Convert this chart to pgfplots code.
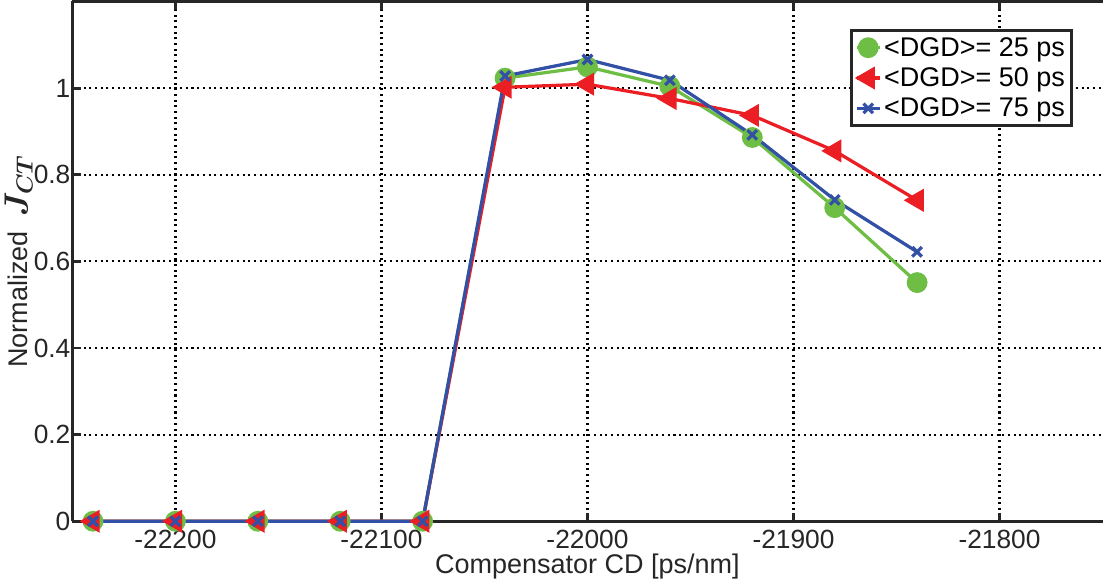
\documentclass[border=0pt]{standalone}
\usepackage{pgfplots}
\pgfplotsset{compat=1.18}
\usepackage{fontspec}
\setmainfont{Liberation Sans}
\definecolor{cgreen}{RGB}{110,190,70}
\definecolor{cred}{RGB}{235,30,36}
\definecolor{cblue}{RGB}{50,80,165}
\begin{document}
\begin{tikzpicture}
\begin{axis}[
  scale only axis,
  width=763pt, height=385pt,
  xmin=-22250, xmax=-21750,
  ymin=0, ymax=1.2,
  axis x line=box, axis y line=left,
  axis line style={line width=2.2pt, black!85, -},
  xtick={-22200,-22100,-22000,-21900,-21800},
  ytick={0,0.2,0.4,0.6,0.8,1},
  scaled x ticks=false,
  xticklabel style={/pgf/number format/fixed, /pgf/number format/1000 sep={}, yshift=-3pt},
  yticklabel style={xshift=2pt},
  tick align=inside,
  major tick length=6pt,
  tick style={line width=2.2pt, black!85},
  grid=major,
  major grid style={line width=1.6pt, dash pattern=on 1.5pt off 2.7pt, black},
  /pgf/number format/assume math mode=true,
  /pgf/number format/1000 sep={},
  ticklabel style={font=\fontsize{19.5}{22}\selectfont, black!85},
  xlabel={Compensator CD [ps/nm]},
  ylabel={Normalized \ {\fontsize{23}{24}\selectfont\boldmath$J_{CT}$}},
  label style={font=\fontsize{20}{22}\selectfont, black!85},
  xlabel style={yshift=3pt},
  ylabel style={yshift=-6pt},
  legend style={at={(0.9715,0.947)}, anchor=north east, draw=black!85, line width=2.2pt,
    font=\fontsize{20}{22}\selectfont, inner sep=3pt, row sep=3pt,
    cells={anchor=west}},
  legend cell align=left,
  legend image post style={line width=2.4pt},
  clip=false,
]
\addplot[color=cgreen, line width=2.4pt, mark=*, mark size=6.5pt, mark options={solid, fill=cgreen}]
coordinates {(-22240,0) (-22200,0) (-22160,0) (-22120,0) (-22080,0) (-22040,1.023) (-22000,1.049) (-21960,1.004) (-21920,0.886) (-21880,0.724) (-21840,0.551)};
\addlegendentry{<DGD>= 25 ps}
\addplot[color=cred, line width=2.4pt, mark=triangle*, mark size=7.5pt, mark options={solid, fill=cred, rotate=90}]
coordinates {(-22240,0) (-22200,0) (-22160,0) (-22120,0) (-22080,0) (-22040,1.002) (-22000,1.009) (-21960,0.976) (-21920,0.937) (-21880,0.855) (-21840,0.741)};
\addlegendentry{<DGD>= 50 ps}
\addplot[color=cblue, line width=2.4pt, mark=x, mark size=5pt, mark options={solid, line width=2.4pt}]
coordinates {(-22240,0) (-22200,0) (-22160,0) (-22120,0) (-22080,0) (-22040,1.028) (-22000,1.066) (-21960,1.018) (-21920,0.892) (-21880,0.742) (-21840,0.622)};
\addlegendentry{<DGD>= 75 ps}
\end{axis}
\end{tikzpicture}
\end{document}
